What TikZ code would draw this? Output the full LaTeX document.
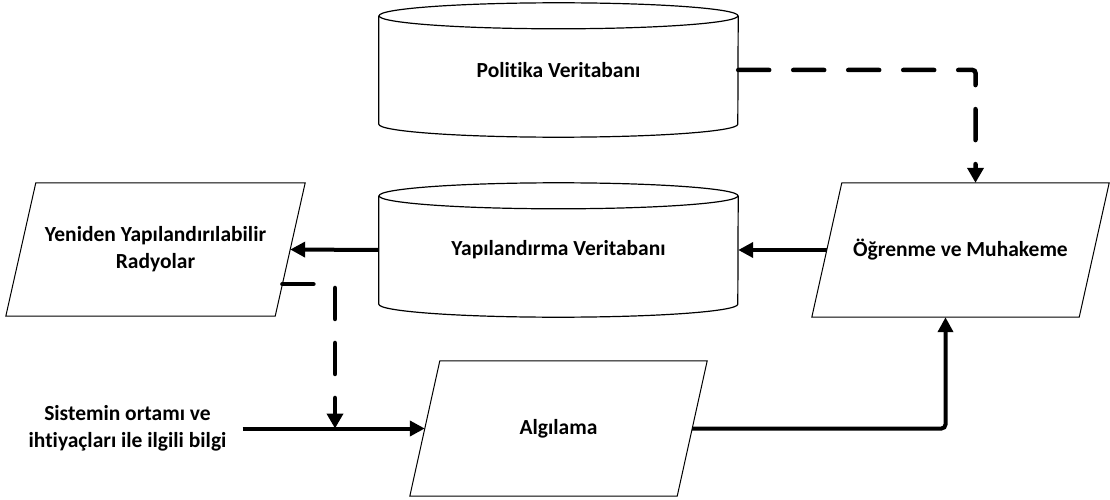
\documentclass[tikz,border=0pt]{standalone}
\usepackage{fontspec}
\setmainfont{Carlito}[Ligatures=NoCommon]
\usetikzlibrary{arrows.meta,calc}

\begin{document}
\begin{tikzpicture}[
  x=1pt, y=-1pt,
  every node/.style={font=\fontsize{21.5}{27}\selectfont\bfseries, align=center},
  box/.style={rectangle, inner sep=0pt},
  dbbox/.style={box, minimum width=359pt, minimum height=134pt},
  parabox/.style={box, minimum width=297pt, minimum height=134pt},
  dbline/.style={line width=1.2pt},
  paraline/.style={line width=1pt, line join=miter},
  flow/.style={line width=4pt, -{Triangle[length=15pt,width=15pt]}},
  ctrl/.style={line width=4.5pt, line cap=round, dash pattern=on 31pt off 24pt,
    rounded corners=3pt, -{Triangle[length=15pt,width=16pt]}},
]
\useasboundingbox (0,0) rectangle (1110,500);

% databases (cylinders drawn around the named boxes)
\node[dbbox] (pol) at (558.5,70) {Politika Veritabanı};
\node[dbbox] (cfg) at (558.5,250) {Yapılandırma Veritabanı};
\foreach \n in {pol,cfg}{
  \draw[dbline] ([yshift=-13pt]\n.north) ellipse [x radius=179.5pt, y radius=13pt];
  \draw[dbline] ([yshift=-13pt]\n.north west) -- ([yshift=13pt]\n.south west)
    arc [start angle=180, end angle=360, x radius=179.5pt, y radius=13pt]
    -- ([yshift=-13pt]\n.north east);
}

% process blocks (parallelograms leaning right by 30pt)
\node[parabox, minimum width=299pt, minimum height=133pt] (yen) at (155.5,249.5)
  {Yeniden Yapılandırılabilir\\Radyolar};
\node[parabox] (ogr) at (960.5,250) {Öğrenme ve Muhakeme};
\node[parabox, minimum height=135pt] (alg) at (558.5,428.5) {Algılama};
\foreach \n in {yen,ogr,alg}{
  \draw[paraline] (\n.south west) -- ([xshift=30pt]\n.north west)
    -- (\n.north east) -- ([xshift=-30pt]\n.south east) -- cycle;
}

% external input
\node[inner xsep=16pt, inner ysep=4pt] (inp) at (127.5,428.5)
  {Sistemin ortamı ve\\ihtiyaçları ile ilgili bilgi};
\coordinate (j) at (335,428.5);

% solid data flow
\draw[flow] (inp.east) -- ([xshift=15pt]alg.west);
\draw[flow, rounded corners=4pt] ([xshift=-15pt]alg.east) -| ([xshift=-15pt]ogr.south);
\draw[flow] ([xshift=15pt]ogr.west) -- (cfg.east);
\draw[flow] (cfg.west) -- ([xshift=-15pt]yen.east);

% dashed control paths
\draw[ctrl] (pol.east) -| ([xshift=15pt]ogr.north);
\draw[ctrl] ($([xshift=-30pt]yen.south east)!0.24!(yen.north east)$) -| (j);
\end{tikzpicture}
\end{document}
